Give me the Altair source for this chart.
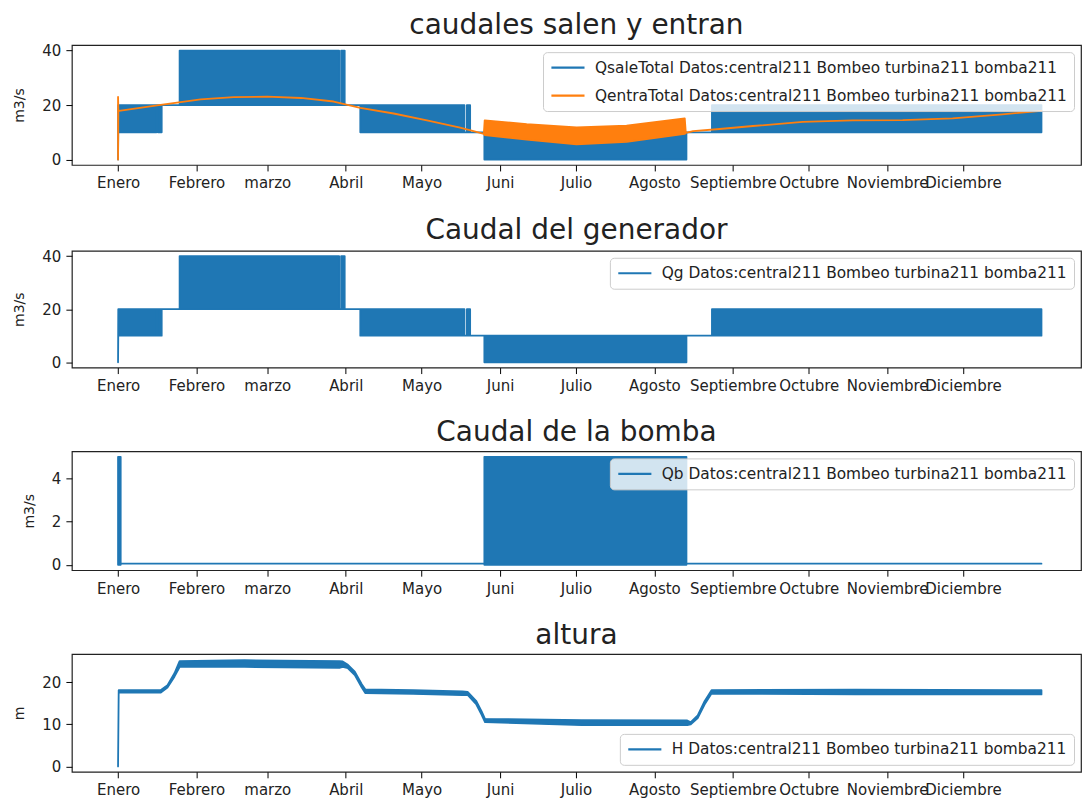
import json
import altair as alt
import pandas as pd

BLUE = "#1f77b4"
ORANGE = "#ff7f0e"
FONT = "DejaVu Sans"

# ---- x axis: hours of the year, ticks at month starts ----
month_hours = [0, 744, 1416, 2160, 2880, 3624, 4344, 5088, 5832, 6552, 7296, 8016]
month_names = ["Enero", "Febrero", "marzo", "Abril", "Mayo", "Juni", "Julio",
               "Agosto", "Septiembre", "Octubre", "Noviembre", "Diciembre"]
x_domain = [-438, 9135]

# ---- series envelopes (hour, lower edge, upper edge) ----
qg_hour = [0, 2, 364, 364, 379, 379, 414, 414, 584, 584, 2097, 2097, 2116, 2116, 2150, 2150,
           2298, 2298, 3286, 3286, 3309, 3309, 3340, 3340, 3475, 3475, 5392, 5392, 5634, 5634, 8760]
qg_lo = [0, 10, 10, 20, 20, 10, 10, 20, 20, 20, 20, 20, 20, 20, 20, 20,
         20, 10, 10, 10, 10, 10, 10, 10, 10, 0, 0, 10, 10, 10, 10]
qg_hi = [0, 20, 20, 20, 20, 20, 20, 20, 20, 40, 40, 20, 20, 40, 40, 20,
         20, 20, 20, 10, 10, 20, 20, 10, 10, 10, 10, 10, 10, 20, 20]

# QsaleTotal shows the same pattern as Qg in the picture
qsale_hour = [0, 2, 364, 364, 379, 379, 414, 414, 584, 584, 2097, 2097, 2116, 2116, 2150, 2150,
              2298, 2298, 3286, 3286, 3309, 3309, 3340, 3340, 3475, 3475, 5392, 5392, 5634, 5634, 8760]
qsale_lo = [0, 10, 10, 20, 20, 10, 10, 20, 20, 20, 20, 20, 20, 20, 20, 20,
            20, 10, 10, 10, 10, 10, 10, 10, 10, 0, 0, 10, 10, 10, 10]
qsale_hi = [0, 20, 20, 20, 20, 20, 20, 20, 20, 40, 40, 20, 20, 40, 40, 20,
            20, 20, 20, 10, 10, 20, 20, 10, 10, 10, 10, 10, 10, 20, 20]

qentra_hour = [0, 3, 9, 404, 783, 1096, 1415, 1735, 2045, 2298, 2614, 2930, 3245, 3435, 3470,
               3478, 3877, 4350, 4824, 5376, 5386, 5455, 5707, 6023, 6496, 6970, 7443, 7917, 8390, 8760]
qentra_lo = [0, 18.2, 17.9, 20.1, 22.1, 22.9, 23.1, 22.6, 21.3, 19.0, 16.9, 14.4, 11.7, 9.8, 9.4,
             9.0, 7.3, 5.6, 6.5, 9.4, 9.8, 10.4, 11.2, 12.3, 13.8, 14.4, 14.5, 15.1, 16.6, 17.9]
qentra_hi = [23, 18.2, 17.9, 20.1, 22.1, 22.9, 23.1, 22.6, 21.3, 19.0, 16.9, 14.4, 11.7, 9.8, 9.4,
             14.4, 13.0, 11.8, 12.4, 15.1, 9.8, 10.4, 11.2, 12.3, 13.8, 14.4, 14.5, 15.1, 16.6, 17.9]

qb_hour = [0, 25, 25, 3475, 3475, 5392, 5392, 8760]
qb_lo = [0, 0, 0.05, 0.05, 0, 0, 0.05, 0.05]
qb_hi = [5, 5, 0.05, 0.05, 5, 5, 0.05, 0.05]

h_hour = [0, 6, 403, 469, 535, 584, 1200, 2100, 2131, 2181, 2246, 2312, 2345, 2800, 3267, 3316,
          3399, 3448, 3481, 4400, 5400, 5433, 5499, 5564, 5630, 7000, 8760]
h_lo = [0, 17.5, 17.5, 18.7, 21.3, 23.6, 23.6, 23.4, 23.6, 23.3, 21.7, 18.7, 17.4, 17.2, 16.9, 17.0,
        14.7, 12.3, 10.5, 9.8, 9.8, 10.0, 11.5, 14.7, 17.3, 17.1, 17.1]
h_hi = [0, 18.1, 18.1, 19.3, 22.1, 25.0, 25.2, 25.0, 24.9, 24.1, 22.5, 19.5, 18.3, 18.1, 17.8, 17.7,
        15.5, 13.1, 11.3, 11.0, 10.9, 10.5, 12.1, 15.5, 18.1, 18.2, 18.1]

SUFFIX = " Datos:central211 Bombeo turbina211 bomba211"
names = {
    "qsale": "QsaleTotal" + SUFFIX,
    "qentra": "QentraTotal" + SUFFIX,
    "qg": "Qg" + SUFFIX,
    "qb": "Qb" + SUFFIX,
    "h": "H" + SUFFIX,
}


def env_df(hours, lo, hi, name):
    return pd.DataFrame({"hora": hours, "lo": lo, "hi": hi, "serie": name})


label_expr = "{}[indexof({}, datum.value)]".format(json.dumps(month_names), json.dumps(month_hours))

x_enc = alt.X("hora:Q", scale=alt.Scale(domain=x_domain, nice=False, zero=False),
              axis=alt.Axis(values=month_hours, labelExpr=label_expr, title=None))


def legend(orient):
    return alt.Legend(title=None, orient=orient, offset=7, symbolType="stroke", symbolSize=1100,
                      symbolStrokeWidth=2.2, labelFontSize=15.4, labelFont=FONT, labelColor="#222",
                      labelLimit=800, fillColor="rgba(255,255,255,0.8)", strokeColor="#cccccc",
                      cornerRadius=4, padding=7, labelOffset=9, clipHeight=17, rowPadding=11)


def layer(df, fill, ytitle, ydom, yticks, sdom, srange, leg):
    return alt.Chart(df).mark_area(fill=fill, opacity=1, strokeWidth=1.8, strokeJoin="round",
                                   interpolate="linear").encode(
        x=x_enc,
        y=alt.Y("lo:Q", scale=alt.Scale(domain=ydom, nice=False, zero=False),
                axis=alt.Axis(values=yticks, title=ytitle)),
        y2="hi:Q",
        stroke=alt.Stroke("serie:N", scale=alt.Scale(domain=sdom, range=srange), legend=leg),
    )


W = 1011
d1 = [names["qsale"], names["qentra"]]
p1 = alt.layer(
    layer(env_df(qsale_hour, qsale_lo, qsale_hi, names["qsale"]), BLUE, "m3/s", [-2, 42], [0, 20, 40],
          d1, [BLUE, ORANGE], legend("top-right")),
    layer(env_df(qentra_hour, qentra_lo, qentra_hi, names["qentra"]), ORANGE, "m3/s", [-2, 42], [0, 20, 40],
          d1, [BLUE, ORANGE], legend("top-right")),
).properties(width=W, height=120, title="caudales salen y entran")

p2 = layer(env_df(qg_hour, qg_lo, qg_hi, names["qg"]), BLUE, "m3/s", [-2, 42], [0, 20, 40],
           [names["qg"]], [BLUE], legend("top-right")).properties(
    width=W, height=117, title="Caudal del generador")

p3 = layer(env_df(qb_hour, qb_lo, qb_hi, names["qb"]), BLUE, "m3/s", [-0.25, 5.25], [0, 2, 4],
           [names["qb"]], [BLUE], legend("top-right")).properties(
    width=W, height=119, title="Caudal de la bomba")

p4 = layer(env_df(h_hour, h_lo, h_hi, names["h"]), BLUE, "m", [-1.27, 26.67], [0, 10, 20],
           [names["h"]], [BLUE], legend("bottom-right")).properties(
    width=W, height=118, title="altura")

chart = alt.vconcat(p1, p2, p3, p4, spacing=24).resolve_scale(
    stroke="independent", y="independent"
).resolve_legend(stroke="independent").properties(
    padding={"left": 4, "top": 1.5, "right": 0, "bottom": 0}
).configure_axis(
    domain=False, grid=False, tickColor="black", tickSize=6, tickWidth=1,
    labelColor="#222", labelFont=FONT, labelFontSize=15, labelPadding=5,
    labelOverlap=False, labelFlush=False, labelBound=False,
    titleFont=FONT, titleFontSize=14, titleFontWeight="normal", titleColor="#222", titlePadding=15,
).configure_view(
    stroke="#222", strokeWidth=1.2
).configure_title(
    font=FONT, fontSize=28, fontWeight="normal", color="#222", anchor="middle",
    baseline="alphabetic", offset=0
)

chart.save("out.html", embed_options={"renderer": "svg", "actions": False})
